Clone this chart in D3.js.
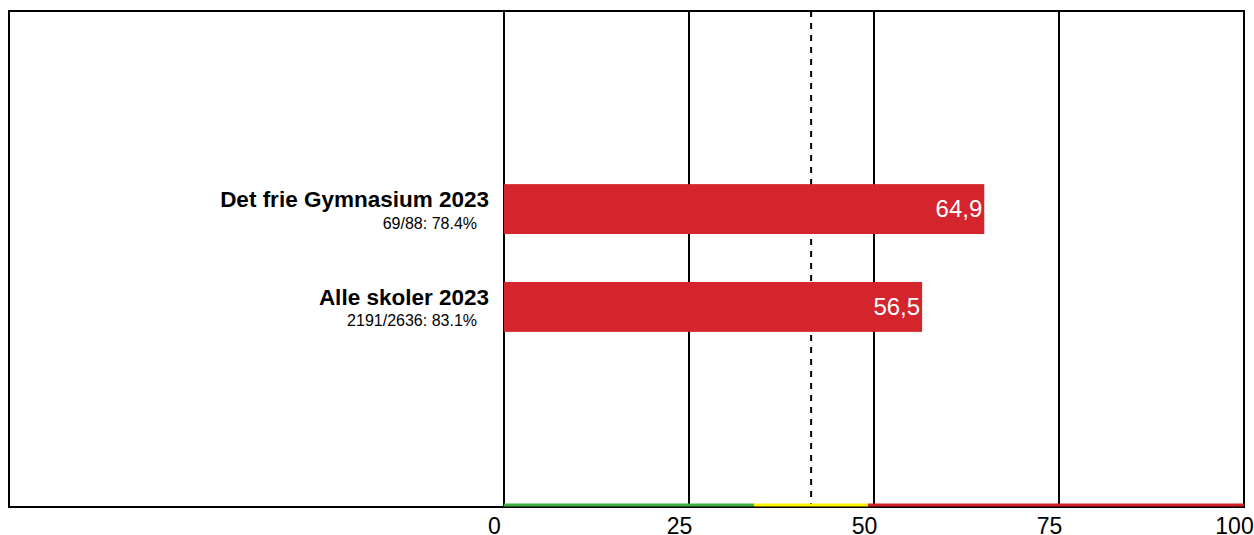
<!DOCTYPE html>
<html><head><meta charset="utf-8">
<script src="https://cdn.jsdelivr.net/npm/d3@7"></script>
<style>body{margin:0;background:#fff}svg{display:block;font-family:"Liberation Sans",Arial,sans-serif}</style>
</head><body><svg id="c" width="1254" height="535"></svg>
<script>
const categories = ["Det frie Gymnasium 2023", "Alle skoler 2023"];
const subLabels = ["69/88: 78.4%", "2191/2636: 83.1%"];
const values = [64.9, 56.5];
const valueLabels = ["64,9", "56,5"];
const tickValues = [0, 25, 50, 75, 100];
const referenceValue = 41.5;
const bandStarts = [0, 33.8, 49.2];
const bandEnds = [33.8, 49.2, 100];
const bandColors = ["#43b047", "#fff200", "#d42029"];

const svg = d3.select("#c");
const pLeft = 504, pRight = 1244, pTop = 11, pBottom = 507;
const x = d3.scaleLinear().domain([0, 100]).range([pLeft, pRight]);
const y = d3.scaleBand().domain(categories).range([pTop - 1, pBottom - 1]).paddingInner(0.49).paddingOuter(1.78);

// outer frame
svg.append("rect").attr("x", 9).attr("y", pTop).attr("width", pRight - 9).attr("height", pBottom - pTop)
  .attr("fill", "none").attr("stroke", "#000").attr("stroke-width", 2);

// gridlines
svg.append("g").selectAll("line").data(tickValues).join("line")
  .attr("x1", d => x(d)).attr("x2", d => x(d)).attr("y1", pTop).attr("y2", pBottom)
  .attr("stroke", "#000").attr("stroke-width", 2);

// reference dashed line
svg.append("line").attr("x1", x(referenceValue)).attr("x2", x(referenceValue))
  .attr("y1", pTop).attr("y2", pBottom).attr("stroke", "#000").attr("stroke-width", 2)
  .attr("stroke-dasharray", "6,6");

// colour bands along bottom
svg.append("g").selectAll("rect").data(bandStarts).join("rect")
  .attr("x", (d) => x(d)).attr("width", (d, i) => x(bandEnds[i]) - x(d))
  .attr("y", 503.5).attr("height", 3).attr("fill", (d, i) => bandColors[i]);

// bars
svg.append("g").selectAll("rect").data(values).join("rect")
  .attr("x", x(0)).attr("y", (d, i) => y(categories[i]))
  .attr("width", d => x(d) - x(0)).attr("height", y.bandwidth()).attr("fill", "#d4242c");

// value labels
svg.append("g").selectAll("text").data(values).join("text")
  .attr("x", d => x(d) - 2).attr("y", (d, i) => y(categories[i]) + y.bandwidth() / 2 + 8)
  .attr("text-anchor", "end").attr("fill", "#fff").attr("font-size", "24px")
  .text((d, i) => valueLabels[i]);

// category labels
const lg = svg.append("g");
lg.selectAll("text.t").data(categories).join("text").attr("class", "t")
  .attr("x", pLeft - 15).attr("y", d => y(d) + y.bandwidth() / 2 - 2)
  .attr("text-anchor", "end").attr("font-weight", "bold").attr("font-size", "22.5px").attr("fill", "#000")
  .text(d => d);
lg.selectAll("text.s").data(subLabels).join("text").attr("class", "s")
  .attr("x", pLeft - 27).attr("y", (d, i) => y(categories[i]) + y.bandwidth() / 2 + 19.5)
  .attr("text-anchor", "end").attr("font-size", "16px").attr("fill", "#000")
  .text(d => d);

// x axis tick labels
svg.append("g").selectAll("text").data(tickValues).join("text")
  .attr("x", d => x(d) - 9.5).attr("y", 534).attr("text-anchor", "middle")
  .attr("font-size", "23px").attr("fill", "#000").text(d => d);
</script></body></html>
